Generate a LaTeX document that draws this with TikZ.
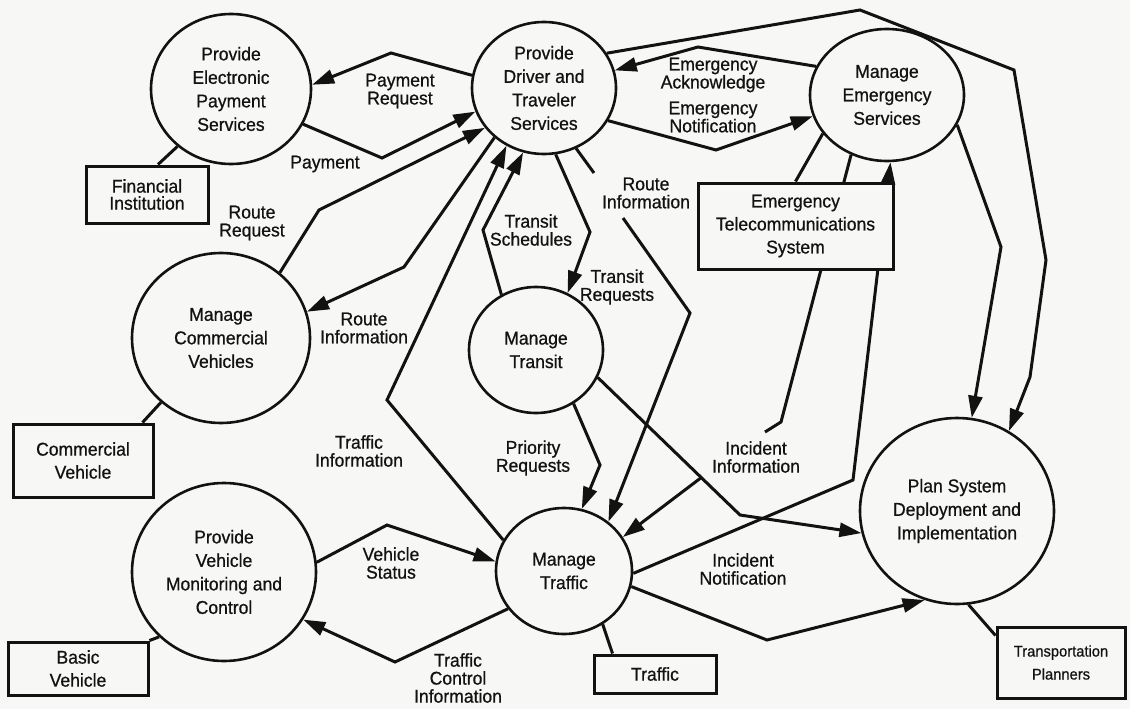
\documentclass[tikz,border=0pt]{standalone}
\usepackage{fontspec}
\setmainfont[FakeStretch=0.95,FakeBold=0.7]{Liberation Sans}
\usetikzlibrary{shapes.geometric,arrows.meta,calc}
\definecolor{paper}{RGB}{247,247,245}
\definecolor{ink}{RGB}{18,18,18}
\begin{document}
\begin{tikzpicture}[x=1pt,y=-1pt,
  proc/.style={ellipse, draw=ink, line width=2.6pt, inner sep=0pt, align=center, text=ink, font=\fontsize{18.5}{23.5}\selectfont},
  ext/.style={rectangle, draw=ink, line width=3pt, inner sep=0pt, align=center, fill=paper, text=ink, font=\fontsize{18.5}{23}\selectfont},
  flow/.style={draw=ink, line width=3pt, line join=miter, -{Triangle[length=22pt,width=14pt]}},
  link/.style={draw=ink, line width=3pt},
  lbl/.style={align=center, inner sep=1pt, text=ink, font=\fontsize{18.5}{18}\selectfont}
]
\fill[paper] (0,0) rectangle (1130,709);
\useasboundingbox (0,0) rectangle (1130,709);

% processes
\node[proc, minimum width=160pt, minimum height=150pt] (peps) at (231,89) {Provide\\Electronic\\Payment\\Services};
\node[proc, minimum width=144pt, minimum height=132pt] (pdts) at (544,88) {Provide\\Driver and\\Traveler\\Services};
\node[proc, minimum width=154pt, minimum height=132pt] (mes) at (887,95) {Manage\\Emergency\\Services};
\node[proc, minimum width=178pt, minimum height=170pt] (mcv) at (221,338) {Manage\\Commercial\\Vehicles};
\node[proc, minimum width=134pt, minimum height=126pt] (mt) at (536,350) {Manage\\Transit};
\node[proc, minimum width=184pt, minimum height=178pt] (pvmc) at (224,572) {Provide\\Vehicle\\Monitoring and\\Control};
\node[proc, minimum width=136pt, minimum height=126pt] (mtr) at (564,571) {Manage\\Traffic};
\node[proc, minimum width=194pt, minimum height=186pt] (psdi) at (957,511) {Plan System\\Deployment and\\Implementation};

% terminators
\node[ext, minimum width=122pt, minimum height=57pt, font=\fontsize{18.5}{17}\selectfont] (fin) at (147,194.5) {Financial\\Institution};
\node[ext, minimum width=140pt, minimum height=73pt] (cv) at (83,460.5) {Commercial\\Vehicle};
\node[ext, minimum width=140pt, minimum height=53pt] (bv) at (78,668.5) {Basic\\Vehicle};
\node[ext, minimum width=122pt, minimum height=38pt] (traf) at (655,674) {Traffic};
\node[ext, minimum width=128pt, minimum height=71pt, font=\fontsize{15.5}{23}\selectfont] (tp) at (1061,662.5) {Transportation\\Planners};

% links to terminators
\draw[link] (peps.227) -- ($(fin.north)+(11,0)$);
\draw[link] (mcv.227) -- ($(cv.north east)+(-12,0)$);
\draw[link] (pvmc.225) -- (bv.north east);
\draw[link] (mtr.-54) -- ($(traf.north west)+(20,0)$);
\draw[link] (psdi.-83) -- ($(tp.north west)+(0,10)$);

% flows passing behind the Emergency Telecommunications box
\draw[flow] (mtr.-2) -- (853,480) -- (mes.-87);
\coordinate (iia) at (765,432);
\coordinate (iib) at (702,477);
\draw[link, line join=miter] (mes.239) -- (781,422) -- (iia);
\draw[flow] (iib) -- (mtr.30);

\node[ext, minimum width=195pt, minimum height=86pt] (ets) at (795.5,226) {Emergency\\Telecommunications\\System};
\draw[link] (mes.211) -- (ets.north);

% flows
\draw[flow] (pdts.170) -- (391,53) -- (peps.3);
\draw[flow] (peps.-26) -- (382,158) -- (pdts.199);
\draw[flow] (mcv.48) -- (319,210) -- (pdts.214);
\draw[flow] (pdts.225) -- (404,267) -- (mcv.17);
\draw[flow] (mtr.153) -- (387,400) -- (pdts.237);
\draw[flow] (mt.122) -- (483,230) -- (pdts.252);
\draw[flow] (pdts.-80) -- (590,232) -- (mt.61);
\coordinate (ria) at (594,173);
\coordinate (rib) at (623,218);
\draw[link] (pdts.-62) -- (ria);
\draw[flow] (rib) -- (690,313) -- (mtr.48);
\draw[flow] (mt.-55) -- (600,465) -- (mtr.74);
\draw[flow] (mt.-24) -- (740,515) -- (psdi.193);
\draw[flow] (pvmc.6) -- (387,525) -- (mtr.172);
\draw[flow] (mtr.214) -- (395,662) -- (pvmc.-31);
\draw[flow] (mes.-23) -- (1001,247) -- (psdi.81);
\draw[flow] (pdts.29) -- (860,10) -- (1014,70) -- (1046,260) -- (1030,377) -- (psdi.57);
\draw[flow] (mes.158) -- (698,47) -- (pdts.14);
\draw[flow] (pdts.-27) -- (716,150) -- (mes.196);
\draw[flow] (mtr.-13) -- (767,640) -- (psdi.250);

% labels
\node[lbl] (lpr) at (400,91) {Payment\\Request};
\node[lbl] (lpay) at (325,164) {Payment};
\node[lbl] (lrr) at (252,223) {Route\\Request};
\node[lbl] (lri1) at (364,328) {Route\\Information};
\node[lbl] (lti) at (359,451) {Traffic\\Information};
\node[lbl] (lts) at (531,230) {Transit\\Schedules};
\node[lbl] (ltr) at (617,287) {Transit\\Requests};
\node[lbl] (lri2) at (646,193) {Route\\Information};
\node[lbl] (lea) at (713,75) {Emergency\\Acknowledge};
\node[lbl] (len) at (713,117) {Emergency\\Notification};
\node[lbl] (lprq) at (533,458) {Priority\\Requests};
\node[lbl] (lii) at (756,457) {Incident\\Information};
\node[lbl] (lin) at (743,569) {Incident\\Notification};
\node[lbl] (lvs) at (391,563) {Vehicle\\Status};
\node[lbl] (ltci) at (458,678) {Traffic\\Control\\Information};
\end{tikzpicture}
\end{document}
